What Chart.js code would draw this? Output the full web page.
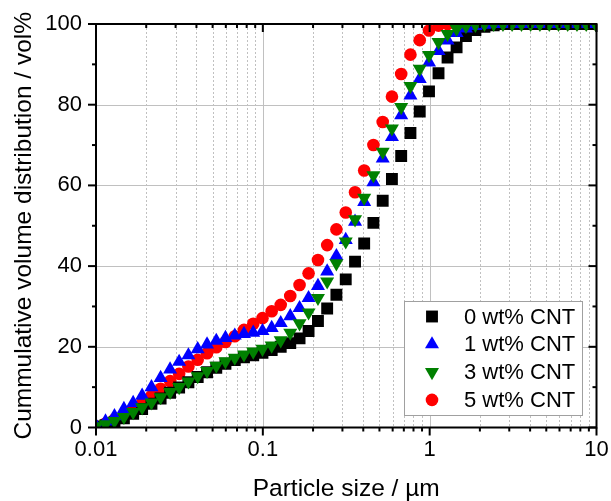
<!DOCTYPE html>
<html>
<head>
<meta charset="utf-8">
<script src="https://cdn.jsdelivr.net/npm/chart.js@4.4.1/dist/chart.umd.min.js"></script>
<style>
  body { margin: 0; background: #fff; }
  canvas { display: block; }
</style>
</head>
<body>
<canvas id="psdChart" width="611" height="501"></canvas>
<script>
// Particle size classes (um)
const sizes = [0.0100, 0.0114, 0.0129, 0.0147, 0.0167, 0.0189, 0.0215, 0.0244, 0.0278, 0.0315,
    0.0358, 0.0407, 0.0463, 0.0526, 0.0597, 0.0679, 0.0771, 0.0876, 0.0995, 0.113,
    0.128, 0.146, 0.166, 0.188, 0.214, 0.243, 0.276, 0.314, 0.357, 0.405,
    0.460, 0.523, 0.594, 0.675, 0.767, 0.872, 0.991, 1.13, 1.28, 1.45,
    1.65, 1.88, 2.13, 2.42, 2.75, 3.12, 3.55, 4.03, 4.58, 5.21,
    5.92, 6.72, 7.64, 8.68, 9.86];

// Cumulative volume distribution (vol%) for each CNT content
const cnt0 = [0.2, 0.6, 1.3, 2.3, 3.4, 4.6, 5.9, 7.2, 8.6, 9.9,
    11.2, 12.5, 13.7, 14.8, 15.8, 16.7, 17.4, 17.9, 18.5, 19.2,
    20.0, 20.9, 22.1, 23.9, 26.4, 29.5, 32.9, 36.7, 41.1, 45.6,
    50.7, 56.2, 61.6, 67.3, 73.0, 78.3, 83.3, 87.8, 91.7, 94.2,
    97.0, 98.5, 99.3, 99.7, 100, 100, 100, 100, 100, 100,
    100, 100, 100, 100, 100];
const cnt1 = [0.5, 1.5, 2.8, 4.6, 6.1, 7.9, 10.0, 12.3, 14.4, 16.3,
    17.9, 19.4, 20.6, 21.5, 22.2, 22.8, 23.2, 23.5, 23.9, 24.7,
    25.9, 27.6, 29.6, 32.1, 35.1, 38.7, 42.5, 46.5, 51.0, 55.9,
    60.8, 66.7, 72.0, 77.4, 82.3, 86.4, 90.5, 93.3, 95.9, 97.8,
    98.9, 99.5, 99.8, 100, 100, 100, 100, 100, 100, 100,
    100, 100, 100, 100, 100];
const cnt3 = [0.3, 0.8, 1.6, 2.6, 3.8, 5.0, 6.2, 7.5, 8.8, 10.0,
    11.4, 12.7, 14.0, 15.3, 16.4, 17.3, 18.1, 18.8, 19.5, 20.3,
    21.6, 23.5, 25.8, 28.5, 32.1, 36.2, 40.7, 46.1, 51.6, 56.9,
    62.5, 68.3, 74.1, 79.4, 84.6, 88.9, 92.3, 95.5, 97.5, 98.8,
    99.5, 99.8, 100, 100, 100, 100, 100, 100, 100, 100,
    100, 100, 100, 100, 100];
const cnt5 = [0.3, 1.0, 2.0, 3.2, 4.6, 6.1, 7.8, 9.6, 11.5, 13.3,
    15.1, 16.8, 18.4, 19.9, 21.2, 22.6, 24.2, 25.7, 27.1, 28.8,
    30.4, 32.6, 35.3, 38.2, 41.5, 45.2, 49.1, 53.3, 58.3, 63.7,
    70.0, 75.7, 82.0, 87.6, 92.4, 96.0, 98.4, 99.6, 100, 100,
    100, 100, 100, 100, 100, 100, 100, 100, 100, 100,
    100, 100, 100, 100, 100];

const seriesLabels = ['0 wt% CNT', '1 wt% CNT', '3 wt% CNT', '5 wt% CNT'];

// Axis ticks
const xMajor = [0.01, 0.1, 1, 10];
const xTickLabels = ['0.01', '0.1', '1', '10'];
const xMinor = [0.02, 0.03, 0.04, 0.05, 0.06, 0.07, 0.08, 0.09,
    0.2, 0.3, 0.4, 0.5, 0.6, 0.7, 0.8, 0.9,
    2, 3, 4, 5, 6, 7, 8, 9];
const yMajor = [0, 20, 40, 60, 80, 100];
const yMinor = [10, 30, 50, 70, 90];

const FONT = "'Liberation Sans', Arial, sans-serif";

function toPoints(values) {
    return values.map((v, i) => ({ x: sizes[i], y: v }));
}

// Marker styles, same order as seriesLabels
const markers = [
    { color: '#000000', style: 'rect', radius: 8.4, rotation: 0 },
    { color: '#0000ff', style: 'triangle', radius: 8.1, rotation: 0 },
    { color: '#008000', style: 'triangle', radius: 8.1, rotation: 180 },
    { color: '#ff0000', style: 'circle', radius: 6.3, rotation: 0 }
];
const drawOrder = [2, 1, 0, 3]; // higher = drawn earlier (underneath)

function drawMarker(ctx, m, x, y) {
    ctx.fillStyle = m.color;
    if (Chart.helpers && Chart.helpers.drawPoint) {
        Chart.helpers.drawPoint(ctx, { pointStyle: m.style, radius: m.radius, rotation: m.rotation, borderWidth: 0 }, x, y);
        return;
    }
    ctx.beginPath();
    ctx.arc(x, y, m.radius, 0, Math.PI * 2);
    ctx.fill();
}

// Grid, frame with ticks and inset legend
const framePlugin = {
    id: 'framePlugin',
    beforeDatasetsDraw(chart) {
        const { ctx, chartArea: a, scales: { x, y } } = chart;
        ctx.save();
        ctx.lineWidth = 1;
        ctx.strokeStyle = '#c0c0c0';
        ctx.setLineDash([2, 2]);
        xMinor.forEach(v => {
            const px = Math.round(x.getPixelForValue(v)) + 0.5;
            ctx.beginPath(); ctx.moveTo(px, a.top); ctx.lineTo(px, a.bottom); ctx.stroke();
        });
        ctx.setLineDash([]);
        xMajor.slice(1, -1).forEach(v => {
            const px = Math.round(x.getPixelForValue(v)) + 0.5;
            ctx.beginPath(); ctx.moveTo(px, a.top); ctx.lineTo(px, a.bottom); ctx.stroke();
        });
        yMajor.slice(1, -1).forEach(v => {
            const py = Math.round(y.getPixelForValue(v)) + 0.5;
            ctx.beginPath(); ctx.moveTo(a.left, py); ctx.lineTo(a.right, py); ctx.stroke();
        });
        ctx.restore();
    },
    afterDatasetsDraw(chart) {
        const { ctx, chartArea: a, scales: { x, y } } = chart;
        ctx.save();
        ctx.strokeStyle = '#000';
        ctx.lineWidth = 2;
        ctx.strokeRect(a.left, a.top, a.right - a.left, a.bottom - a.top);
        const tick = (x1, y1, x2, y2) => { ctx.beginPath(); ctx.moveTo(x1, y1); ctx.lineTo(x2, y2); ctx.stroke(); };
        xMajor.forEach(v => {
            const px = x.getPixelForValue(v);
            tick(px, a.bottom, px, a.bottom + 8);
            tick(px, a.top, px, a.top + 8);
        });
        xMinor.forEach(v => {
            const px = x.getPixelForValue(v);
            tick(px, a.bottom, px, a.bottom + 4);
            tick(px, a.top, px, a.top + 4);
        });
        yMajor.forEach(v => {
            const py = y.getPixelForValue(v);
            tick(a.left - 8, py, a.left, py);
            tick(a.right - 8, py, a.right, py);
        });
        yMinor.forEach(v => {
            const py = y.getPixelForValue(v);
            tick(a.left - 4, py, a.left, py);
            tick(a.right - 4, py, a.right, py);
        });
        ctx.restore();
    },
    afterDraw(chart) {
        const ctx = chart.ctx;
        const box = { x: 404.5, y: 301.5, w: 178, h: 114 };
        ctx.save();
        ctx.fillStyle = '#fff';
        ctx.fillRect(box.x, box.y, box.w, box.h);
        ctx.strokeStyle = '#a0a0a0';
        ctx.lineWidth = 1;
        ctx.strokeRect(box.x, box.y, box.w, box.h);
        ctx.font = '22px ' + FONT;
        ctx.textBaseline = 'middle';
        seriesLabels.forEach((label, i) => {
            const cy = 316.5 + i * 27.8;
            drawMarker(ctx, markers[i], 432, cy);
            ctx.fillStyle = '#000';
            ctx.fillText(label, 464, cy + 1);
        });
        ctx.restore();
    }
};

const seriesData = [cnt0, cnt1, cnt3, cnt5];

window.onload = () => {
    const ctx = document.getElementById('psdChart').getContext('2d');
    new Chart(ctx, {
        type: 'scatter',
        data: {
            datasets: seriesData.map((vals, i) => ({
                label: seriesLabels[i],
                data: toPoints(vals),
                pointStyle: markers[i].style,
                pointRadius: markers[i].radius,
                pointRotation: markers[i].rotation,
                pointBackgroundColor: markers[i].color,
                pointBorderWidth: 0,
                pointHoverRadius: markers[i].radius,
                order: drawOrder[i],
                clip: 0
            }))
        },
        options: {
            responsive: false,
            animation: false,
            devicePixelRatio: 1,
            layout: { padding: { top: 24, right: 14.5, left: 0, bottom: 0 } },
            plugins: {
                legend: { display: false },
                tooltip: { enabled: false }
            },
            scales: {
                x: {
                    type: 'logarithmic',
                    min: 0.01,
                    max: 10,
                    grid: { display: false, drawTicks: false },
                    border: { display: false },
                    afterBuildTicks: (scale) => {
                        scale.ticks = xMajor.map(v => ({ value: v }));
                    },
                    afterFit: (scale) => {
                        scale.height = 73.5;
                        scale.paddingLeft = 0;
                        scale.paddingRight = 0;
                    },
                    ticks: {
                        autoSkip: false,
                        maxRotation: 0,
                        padding: 9,
                        color: '#000',
                        font: { family: FONT, size: 22 },
                        callback: (value) => {
                            const idx = xMajor.indexOf(value);
                            return idx >= 0 ? xTickLabels[idx] : '';
                        }
                    },
                    title: {
                        display: true,
                        text: 'Particle size / µm',
                        color: '#000',
                        font: { family: FONT, size: 24.5, lineHeight: 1.0 },
                        padding: { top: 0, bottom: 0 }
                    }
                },
                y: {
                    min: 0,
                    max: 100,
                    grid: { display: false, drawTicks: false },
                    border: { display: false },
                    afterBuildTicks: (scale) => {
                        scale.ticks = yMajor.map(v => ({ value: v }));
                    },
                    afterFit: (scale) => {
                        scale.width = 96;
                        scale.paddingTop = 0;
                        scale.paddingBottom = 0;
                    },
                    ticks: {
                        padding: 14,
                        color: '#000',
                        font: { family: FONT, size: 22 }
                    },
                    title: {
                        display: true,
                        text: 'Cummulative volume distribution / vol%',
                        color: '#000',
                        font: { family: FONT, size: 24.5 },
                        padding: { top: 10, bottom: 0 }
                    }
                }
            }
        },
        plugins: [framePlugin]
    });
};
</script>
</body>
</html>
